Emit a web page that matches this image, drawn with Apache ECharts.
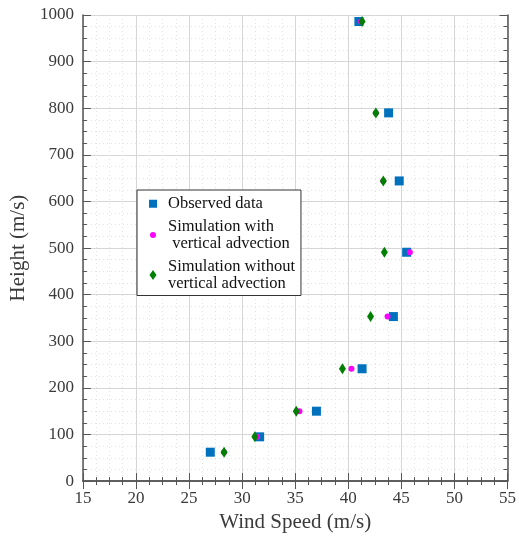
<!DOCTYPE html>
<html>
<head>
<meta charset="utf-8">
<script src="https://cdn.jsdelivr.net/npm/echarts@6/dist/echarts.min.js"></script>
<style>
  html, body { margin: 0; padding: 0; background: #fff; }
  #chart { width: 519px; height: 538px; }
</style>
</head>
<body>
<div id="chart"></div>
<script>
// heights (m) of the profile levels
const heights = [62, 95, 150, 241, 353, 491, 644, 790, 986]
// wind speed (m/s) at each level
const observed = [27.0, 31.65, 37.0, 41.3, 44.25, 45.5, 44.8, 43.8, 41.0]
const withAdv = [28.3, 31.4, 35.4, 40.3, 43.7, 45.8, 43.3, 42.6, 41.2]
const withoutAdv = [28.3, 31.2, 35.1, 39.45, 42.1, 43.4, 43.3, 42.6, 41.3]

const names = ['Observed data', 'Simulation with\n vertical advection', 'Simulation without\nvertical advection']

const font = 'Liberation Serif, Times New Roman, serif'
const textColor = '#3a3a3a'
const axisColor = '#555'

function pairs(xs) {
  return xs.map((x, i) => [x, heights[i]])
}

const chart = echarts.init(document.getElementById('chart'))

const boxAxis = {
  show: true,
  axisLine: { show: true, lineStyle: { color: axisColor, width: 1.5 } },
  axisTick: { show: true, inside: true, length: 8, lineStyle: { color: axisColor } },
  minorTick: { show: true, splitNumber: 4, length: 4, lineStyle: { color: axisColor } },
  axisLabel: { show: false },
  splitLine: { show: false }
}

// legend icons share one 10x12 box (the extra moveTo points set the box) so sizes stay like the marks
const legendIcons = [
  'path://M0,0M10,12M1,2L9,2L9,10L1,10Z',
  'path://M0,0M10,12M5,3A3,3 0 1 1 4.99,3Z',
  'path://M0,0M10,12M5,1L8.5,6L5,11L1.5,6Z'
]

const option = {
  animation: false,
  backgroundColor: '#fff',
  grid: { left: 81, right: 10, top: 15, bottom: 55 },
  legend: {
    orient: 'vertical',
    left: 137,
    top: 190,
    padding: [5, 6, 3, 11],
    itemGap: 5,
    itemWidth: 20,
    itemHeight: 12,
    backgroundColor: '#fff',
    borderColor: '#333',
    borderWidth: 1,
    textStyle: { fontFamily: font, fontSize: 16.5, color: '#111', lineHeight: 17.5 },
    data: names.map((n, i) => ({ name: n, icon: legendIcons[i] }))
  },
  xAxis: [
    {
      type: 'value',
      min: 15,
      max: 55,
      interval: 5,
      name: 'Wind Speed (m/s)',
      nameLocation: 'middle',
      nameGap: 30,
      nameTextStyle: { fontFamily: font, fontSize: 21, color: textColor },
      axisLine: { show: true, onZero: false, lineStyle: { color: axisColor, width: 1.5 } },
      axisTick: { show: true, inside: true, length: 8, lineStyle: { color: axisColor } },
      minorTick: { show: true, splitNumber: 4, length: 4, lineStyle: { color: axisColor } },
      axisLabel: { fontFamily: font, fontSize: 17, color: textColor, margin: 9 },
      splitLine: { show: true, lineStyle: { color: '#d6d6d6', width: 1 } },
      minorSplitLine: { show: true, lineStyle: { color: '#e2e2e2', type: [1, 3] } }
    },
    Object.assign({ type: 'value', min: 15, max: 55, interval: 5, position: 'top' }, boxAxis)
  ],
  yAxis: [
    {
      type: 'value',
      min: 0,
      max: 1000,
      interval: 100,
      name: 'Height (m/s)',
      nameLocation: 'middle',
      nameGap: 46,
      nameTextStyle: { fontFamily: font, fontSize: 21, color: textColor },
      axisLine: { show: true, onZero: false, lineStyle: { color: axisColor, width: 1.5 } },
      axisTick: { show: true, inside: true, length: 8, lineStyle: { color: axisColor } },
      minorTick: { show: true, splitNumber: 4, length: 4, lineStyle: { color: axisColor } },
      axisLabel: { fontFamily: font, fontSize: 17, color: textColor, margin: 9, formatter: v => String(v) },
      splitLine: { show: true, lineStyle: { color: '#d6d6d6', width: 1 } },
      minorSplitLine: { show: true, lineStyle: { color: '#e2e2e2', type: [1, 3] } }
    },
    Object.assign({ type: 'value', min: 0, max: 1000, interval: 100, position: 'right' }, boxAxis)
  ],
  series: [
    {
      name: names[0],
      type: 'scatter',
      symbol: 'rect',
      symbolSize: 9,
      itemStyle: { color: '#0072BD', opacity: 1 },
      data: pairs(observed),
      z: 2
    },
    {
      name: names[1],
      type: 'scatter',
      symbol: 'circle',
      symbolSize: 6,
      itemStyle: { color: '#FF00FF', opacity: 1 },
      data: pairs(withAdv),
      z: 3
    },
    {
      name: names[2],
      type: 'scatter',
      symbol: 'diamond',
      symbolSize: [7, 11],
      itemStyle: { color: '#007F00', opacity: 1 },
      data: pairs(withoutAdv),
      z: 4
    }
  ]
}

chart.setOption(option)
</script>
</body>
</html>
